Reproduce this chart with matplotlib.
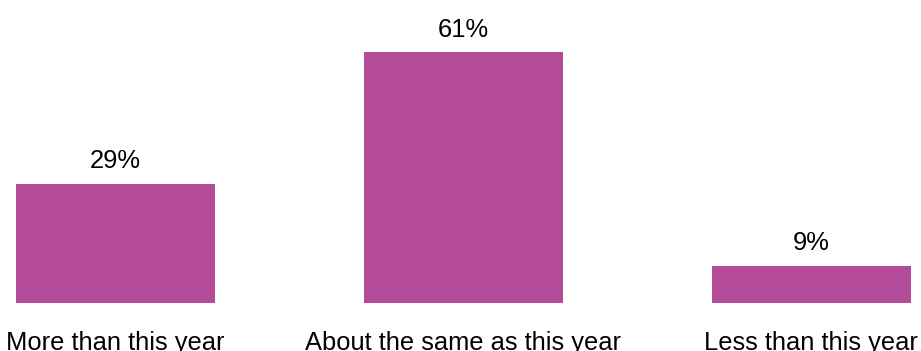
import matplotlib.pyplot as plt

categories = ["More than this year", "About the same as this year", "Less than this year"]
values = [29, 61, 9]
bar_color = "#B34B98"

plt.rcParams['font.family'] = ['Liberation Sans', 'DejaVu Sans']

fig = plt.figure(figsize=(9.21, 3.51), dpi=100)
ax = fig.add_axes([0, 0, 1, 1])

x = range(len(categories))
bars = ax.bar(x, values, width=0.572, color=bar_color)

# value labels above each bar
for xi, v in zip(x, values):
    ax.annotate(f"{v}%", (xi, v), xytext=(0, 11), textcoords="offset points",
                ha="center", va="baseline", fontsize=18.4, color="black")

# category labels under the bars (bottom edge clips them slightly)
for xi, c in zip(x, categories):
    ax.annotate(c, (xi, 0), xytext=(0, -34.2), textcoords="offset points",
                ha="center", va="baseline", fontsize=18.4, color="black")

ax.set_xlim(-0.332, 2.315)
ax.set_ylim(-11.82, 73.73)
ax.axis("off")

fig.savefig("out.png", dpi=100, facecolor="white")
